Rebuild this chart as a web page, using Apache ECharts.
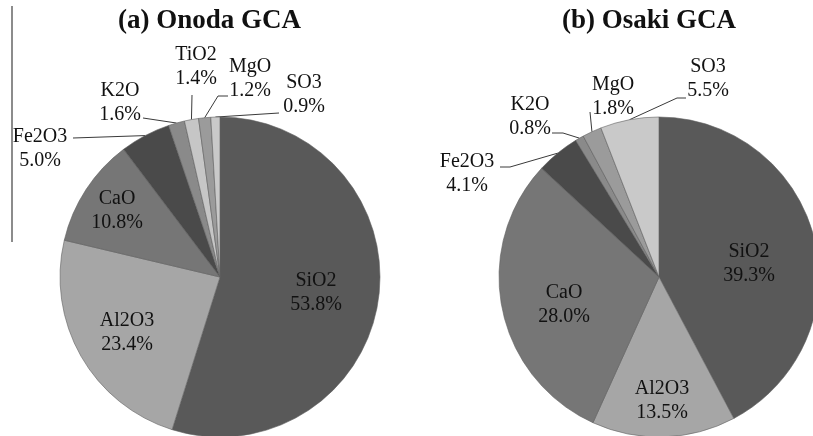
<!DOCTYPE html>
<html>
<head>
<meta charset="utf-8">
<script src="https://cdn.jsdelivr.net/npm/echarts@6/dist/echarts.min.js"></script>
<style>
  html, body { margin: 0; padding: 0; background: #fff; }
  #chart { width: 813px; height: 436px; }
</style>
</head>
<body>
<div id="chart"></div>
<script>
// Oxide composition (wt.%) of the two gasification coal ashes
const oxidesA = ['SiO2', 'Al2O3', 'CaO', 'Fe2O3', 'K2O', 'TiO2', 'MgO', 'SO3'];
const valuesA = [53.8, 23.4, 10.8, 5.0, 1.6, 1.4, 1.2, 0.9];
const oxidesB = ['SiO2', 'Al2O3', 'CaO', 'Fe2O3', 'K2O', 'MgO', 'SO3'];
const valuesB = [39.3, 13.5, 28.0, 4.1, 0.8, 1.8, 5.5];
const titles = ['(a) Onoda GCA', '(b) Osaki GCA'];

// Grey shade for each oxide
const shade = {
  SiO2: '#595959', Al2O3: '#a6a6a6', CaO: '#767676', Fe2O3: '#4a4a4a',
  K2O: '#8a8a8a', TiO2: '#c6c6c6', MgO: '#9b9b9b', SO3: '#c9c9c9'
};

// Label placement: centre of each label block, plus the bend/end points of its leader line
const placeA = {
  SiO2:  { c: [316, 293] },
  Al2O3: { c: [127, 333] },
  CaO:   { c: [117, 211] },
  Fe2O3: { c: [40, 149],  line: [[73, 138]] },
  K2O:   { c: [120, 103], line: [[143, 118]] },
  TiO2:  { c: [196, 67],  line: [[192, 95]] },
  MgO:   { c: [250, 79],  line: [[218, 96], [228, 96]] },
  SO3:   { c: [304, 95],  line: [[279, 113]] }
};
const placeB = {
  SiO2:  { c: [749, 264] },
  Al2O3: { c: [662, 401] },
  CaO:   { c: [564, 305] },
  Fe2O3: { c: [467, 174], line: [[510, 167], [500, 167]] },
  K2O:   { c: [530, 117], line: [[563, 133], [552, 133]] },
  MgO:   { c: [613, 97],  line: [[590, 112]] },
  SO3:   { c: [708, 79],  line: [[677, 98], [686, 98]] }
};

const serif = '"Liberation Serif", "Times New Roman", serif';

function buildData(names, values, place) {
  return names.map(function (n, i) {
    const outside = !!place[n].line;
    return {
      name: n,
      value: values[i],
      itemStyle: { color: shade[n] },
      label: { position: outside ? 'outside' : 'inside' },
      labelLine: { show: outside }
    };
  });
}

function makeLayout(names, place) {
  return function (params) {
    const p = place[names[params.dataIndex]];
    const out = { x: p.c[0], y: p.c[1], align: 'center', verticalAlign: 'middle' };
    if (p.line && params.labelLinePoints) {
      out.labelLinePoints = [params.labelLinePoints[0]].concat(p.line);
    }
    return out;
  };
}

function pieSeries(names, values, place, center) {
  return {
    type: 'pie',
    center: center,
    radius: 160,
    startAngle: 90,
    clockwise: true,
    avoidLabelOverlap: false,
    animation: false,
    silent: true,
    itemStyle: { borderColor: '#5f5f5f', borderWidth: 0.6 },
    label: {
      show: true,
      fontFamily: serif,
      fontSize: 20,
      lineHeight: 24,
      color: '#111',
      formatter: function (p) { return p.name + '\n' + p.value.toFixed(1) + '%'; }
    },
    labelLine: { show: false, lineStyle: { color: '#3a3a3a', width: 1 } },
    labelLayout: makeLayout(names, place),
    data: buildData(names, values, place)
  };
}

const chart = echarts.init(document.getElementById('chart'), null, { renderer: 'canvas' });
chart.setOption({
  backgroundColor: '#ffffff',
  animation: false,
  title: [
    { text: titles[0], left: 113, top: 3,
      textStyle: { fontFamily: serif, fontSize: 27, fontWeight: 'bold', color: '#111' } },
    { text: titles[1], left: 557, top: 3,
      textStyle: { fontFamily: serif, fontSize: 27, fontWeight: 'bold', color: '#111' } }
  ],
  graphic: [
    { type: 'line', shape: { x1: 12, y1: 6, x2: 12, y2: 242 },
      style: { stroke: '#666', lineWidth: 1.5 }, silent: true }
  ],
  series: [
    pieSeries(oxidesA, valuesA, placeA, [220, 277]),
    pieSeries(oxidesB, valuesB, placeB, [659, 277])
  ]
});
</script>
</body>
</html>
